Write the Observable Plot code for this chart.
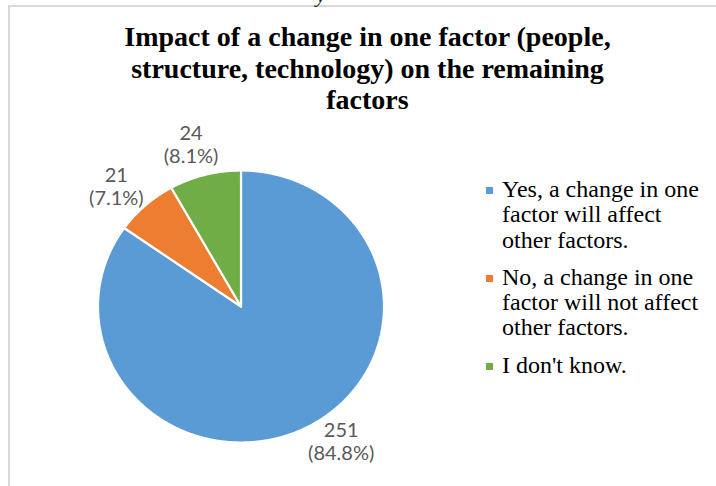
<!DOCTYPE html>
<html>
<head>
<meta charset="utf-8">
<script src="https://cdn.jsdelivr.net/npm/d3@7"></script>
<script src="https://cdn.jsdelivr.net/npm/@observablehq/plot@0.6"></script>
<style>
  html, body { margin: 0; padding: 0; background: #fff; overflow: hidden; }
  #wrap { position: relative; width: 716px; height: 486px; overflow: hidden; background: #fff; }
  #frame { position: absolute; left: 8px; top: 5px; width: 800px; height: 600px;
           border-top: 2px solid #d9d9d9; border-left: 2px solid #d9d9d9; }
  #frag { position: absolute; left: 316px; top: -16px; font: italic 22px/22px "Liberation Serif", serif; color: #222; }
  #title { position: absolute; left: 0; top: 21px; width: 735px; text-align: center;
           font: bold 28px/31.5px "Liberation Serif", serif; color: #000; white-space: pre-line; }
  #chart { position: absolute; left: 0; top: 0; }
  #legend { position: absolute; left: 486px; top: 177px; display: flex; flex-direction: column; gap: 12px; }
  .item { position: relative; padding-left: 16px; font: 24px/25.3px "Liberation Serif", serif; color: #000; white-space: pre-line; }
  .sw { position: absolute; left: 0; top: 10px; width: 7px; height: 7px; }
</style>
</head>
<body>
<div id="wrap">
  <div id="frame"></div>
  <div id="frag">y</div>
  <div id="title"></div>
  <div id="chart"></div>
  <div id="legend"></div>
</div>
<script>
// ---- data ----
const titleText = "Impact of a change in one factor (people,\nstructure, technology) on the remaining\nfactors";
const categories = [
  "Yes, a change in one\nfactor will affect\nother factors.",
  "No, a change in one\nfactor will not affect\nother factors.",
  "I don't know."
];
const counts = [251, 21, 24];
const colors = ["#5b9bd5", "#ed7d31", "#70ad47"];
// label nudges (px), layout only
const labelNudge = [[20, -13], [-8, 3], [-6, -2]];

document.getElementById("title").textContent = titleText;

const total = d3.sum(counts);
const arcs = d3.pie().sort(null).value(d => d)(counts);

const pts = [];
arcs.forEach((a, i) => {
  const n = Math.max(4, Math.ceil((a.endAngle - a.startAngle) / 0.005));
  pts.push({k: i, x: 0, y: 0});
  for (let j = 0; j <= n; j++) {
    const t = a.startAngle + (a.endAngle - a.startAngle) * j / n;
    pts.push({k: i, x: Math.sin(t), y: Math.cos(t)});
  }
  pts.push({k: i, x: 0, y: 0});
});

const labelMarks = arcs.map((a, i) => {
  const mid = (a.startAngle + a.endAngle) / 2;
  const d = [{
    x: 1.22 * Math.sin(mid),
    y: 1.22 * Math.cos(mid),
    text: `${counts[i]}\n(${(counts[i] / total * 100).toFixed(1)}%)`
  }];
  return Plot.text(d, {
    x: "x", y: "y", text: "text",
    dx: labelNudge[i][0], dy: labelNudge[i][1],
    fontSize: 20, fontFamily: "Lato, 'Open Sans', sans-serif",
    fill: "#595959", lineHeight: 1.15, textAnchor: "middle"
  });
});

const chart = Plot.plot({
  width: 716,
  height: 486,
  margin: 0,
  style: {background: "transparent", overflow: "visible"},
  x: {domain: [-1, 1], range: [97.5, 383.5], axis: null},
  y: {domain: [-1, 1], range: [442, 170], axis: null},
  color: {domain: categories, range: colors},
  marks: [
    Plot.line(pts, {
      x: "x", y: "y", z: "k",
      fill: d => categories[d.k],
      stroke: "white", strokeWidth: 2.2, strokeLinejoin: "miter"
    }),
    ...labelMarks
  ]
});
document.getElementById("chart").appendChild(chart);

const legend = document.getElementById("legend");
categories.forEach((c, i) => {
  const item = document.createElement("div");
  item.className = "item";
  const sw = document.createElement("span");
  sw.className = "sw";
  sw.style.background = colors[i];
  item.appendChild(sw);
  item.appendChild(document.createTextNode(c));
  legend.appendChild(item);
});
</script>
</body>
</html>
